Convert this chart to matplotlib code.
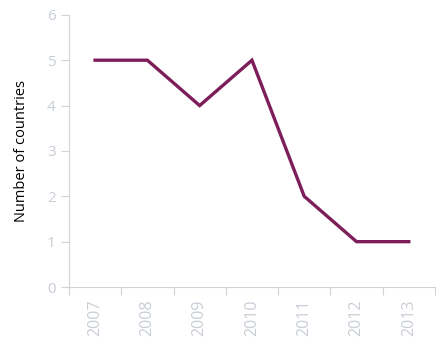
import numpy as np
import matplotlib
matplotlib.use("Agg")
import matplotlib.pyplot as plt

years = ['2007', '2008', '2009', '2010', '2011', '2012', '2013']
countries = [5, 5, 4, 5, 2, 1, 1]

plt.rcParams['font.family'] = ['Open Sans', 'DejaVu Sans']

fig = plt.figure(figsize=(4.42, 3.45), dpi=100)
ax = fig.add_axes([0.156, 0.168, 0.828, 0.789])

x = np.arange(len(years))
ax.plot(x, countries, color='#7d1e5b', lw=2.4, solid_joinstyle='miter')

axis_grey = '#d3d3d3'
label_grey = '#c9ced6'

ax.set_xlim(-0.5, len(years) - 0.5)
ax.set_ylim(0, 6)
ax.set_yticks(range(7))
ax.tick_params(axis='y', colors=axis_grey, labelcolor=label_grey, labelsize=11, length=6, width=0.8)

# category labels centred, tick marks on the boundaries
ax.set_xticks(x)
ax.set_xticklabels(years, rotation=90)
ax.tick_params(axis='x', which='major', length=0, labelcolor=label_grey, labelsize=11.5, pad=9)
ax.set_xticks(np.arange(-0.5, len(years)), minor=True)
ax.tick_params(axis='x', which='minor', length=6, width=0.8, color=axis_grey)

for side in ['top', 'right']:
    ax.spines[side].set_visible(False)
for side in ['left', 'bottom']:
    ax.spines[side].set_color(axis_grey)
    ax.spines[side].set_linewidth(0.8)

ax.set_ylabel('Number of countries', fontsize=10.5, color='black', labelpad=13)

fig.savefig('out.png', dpi=100)
